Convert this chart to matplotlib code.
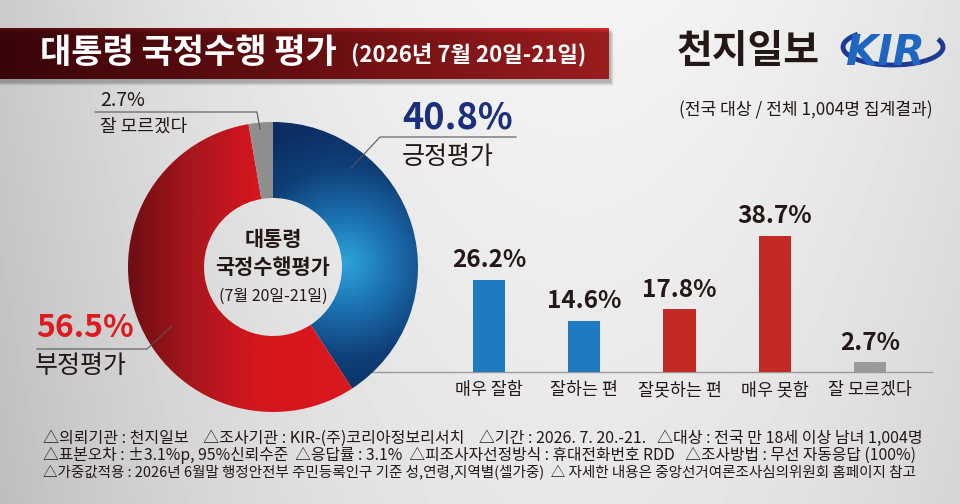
import numpy as np
import matplotlib
matplotlib.use("Agg")
import matplotlib.pyplot as plt
from matplotlib.patches import Rectangle, Arc
from matplotlib.colors import LinearSegmentedColormap

plt.rcParams['font.family'] = ['Noto Sans CJK KR', 'DejaVu Sans']

# donut data
pie_labels = ['긍정평가', '부정평가', '잘 모르겠다']
pie_values = [40.8, 56.5, 2.7]

# bar data
bar_labels = ['매우 잘함', '잘하는 편', '잘못하는 편', '매우 못함', '잘 모르겠다']
bar_values = [26.2, 14.6, 17.8, 38.7, 2.7]
bar_colors = ['#1f7bc1', '#1f7bc1', '#c22b25', '#c22b25', '#9a9a9a']

footer = [
    '△의뢰기관 : 천지일보    △조사기관 : KIR-(주)코리아정보리서치    △기간 : 2026. 7. 20.-21.   △대상 : 전국 만 18세 이상 남녀 1,004명',
    '△표본오차 : ±3.1%p, 95%신뢰수준  △응답률 : 3.1%  △피조사자선정방식 : 휴대전화번호 RDD   △조사방법 : 무선 자동응답 (100%)',
    '△가중값적용 : 2026년 6월말 행정안전부 주민등록인구 기준 성,연령,지역별(셀가중)  △ 자세한 내용은 중앙선거여론조사심의위원회 홈페이지 참고',
]
footer_right = [921, 915, 912]

W, H = 960, 504
fig = plt.figure(figsize=(W / 100, H / 100), dpi=100)

# background
bg = fig.add_axes([0, 0, 1, 1], zorder=-10)
bg.set_xlim(0, W)
bg.set_ylim(H, 0)
bg.axis('off')
xx, yy = np.meshgrid(np.linspace(0, 1, 240), np.linspace(0, 1, 126))
shade = 0.955 - 0.16 * ((xx - 0.6) / 0.6) ** 2 - 0.05 * yy
bg.imshow(shade, cmap='gray', vmin=0, vmax=1, extent=(0, W, H, 0), aspect='auto')

# title banner with shadow
for i, a in enumerate([0.10, 0.08, 0.06, 0.04]):
    bg.add_patch(Rectangle((0, 28 + i + 2), 609 + i + 2, 51 + 2, color='black', alpha=a, lw=0))
banner_cmap = LinearSegmentedColormap.from_list('b', ['#4e0a0f', '#8c1519', '#d0292a'])
bg.imshow(np.linspace(0, 1, 200)[None, :], cmap=banner_cmap, extent=(0, 609, 79, 28), aspect='auto')
bg.set_xlim(0, W)
bg.set_ylim(H, 0)

# baseline under bars
bg.plot([355, 932], [372, 372], color='#9a9a9a', lw=1)

# donut
pax = fig.add_axes([128 / W, (H - 267 - 145) / H, 290 / W, 290 / H])
wedges, _ = pax.pie(pie_values, startangle=90, counterclock=False, radius=1,
                    wedgeprops=dict(width=1 - 69 / 145, linewidth=0))
gx, gy = np.meshgrid(np.linspace(-1, 1, 300), np.linspace(1, -1, 300))
# blue: radial gradient
r = np.sqrt((gx - 0.5) ** 2 + (gy - 0.03) ** 2)
blue_cmap = LinearSegmentedColormap.from_list('bl', ['#2ea4da', '#1b6fae', '#0f3f78', '#0b2d62'])
im = pax.imshow(np.clip(r / 1.0, 0, 1), cmap=blue_cmap, vmin=0, vmax=1, extent=(-1, 1, -1, 1))
im.set_clip_path(wedges[0])
# red: horizontal gradient
red_cmap = LinearSegmentedColormap.from_list('rd', ['#6e0e14', '#a8161d', '#d4161d', '#d8181e'])
im = pax.imshow(np.clip((gx + 1) / 1.3, 0, 1), cmap=red_cmap, vmin=0, vmax=1, extent=(-1, 1, -1, 1))
im.set_clip_path(wedges[1])
wedges[0].set_facecolor('none')
wedges[1].set_facecolor('none')
wedges[2].set_facecolor('#8e8e8e')
pax.set_xlim(-1, 1)
pax.set_ylim(-1, 1)
pax.set_aspect('equal')
pax.axis('off')

# bars
bax = fig.add_axes([441.5 / W, (H - 372) / H, 476 / W, 176 / H])
bax.patch.set_alpha(0)
xs = np.arange(len(bar_values))
bax.bar(xs, bar_values, width=0.34, color=bar_colors)
bax.set_xlim(-0.5, 4.5)
bax.set_ylim(0, 50)
bax.axis('off')
for x, v in zip(xs, bar_values):
    bax.text(x, v + 2.2, f'{v}%', ha='center', va='bottom', fontsize=17.5,
             fontweight='bold', color='#231815')
for x, lab in zip(xs, bar_labels):
    bax.text(x, -5.2, lab, ha='center', va='center', fontsize=12.5, color='#231815')

# overlay for texts and leader lines
ov = fig.add_axes([0, 0, 1, 1], zorder=10)
ov.patch.set_alpha(0)
ov.set_xlim(0, W)
ov.set_ylim(H, 0)
ov.axis('off')

ov.text(40, 53, '대통령 국정수행 평가', color='white', fontsize=24.5, fontweight='bold',
        va='center', ha='left')
ov.text(351, 55, '(2026년 7월 20일-21일)', color='white', fontsize=16, fontweight='bold',
        va='center', ha='left')

ov.text(677, 52, '천지일보', color='#231815', fontsize=28, fontweight='bold', va='center', ha='left')
ov.add_patch(Arc((893, 47), 100, 36, theta1=-10, theta2=200, color='#1d3a94', lw=3.5))
ov.text(845, 53, 'KIR', color='#1f66c2', fontsize=30, fontweight='bold', style='italic',
        family='DejaVu Sans', va='center', ha='left')
ov.text(933, 110, '(전국 대상 / 전체 1,004명 집계결과)', color='#231815', fontsize=12.3,
        va='center', ha='right')

lc = '#555555'
ov.plot([95, 257, 260], [112, 112, 129], color=lc, lw=0.8)
ov.plot([516, 380, 351], [137, 137, 168], color=lc, lw=0.8)
ov.plot([37, 147, 172], [349, 349, 326], color=lc, lw=0.8)

ov.text(100, 100, f'{pie_values[2]}%', fontsize=14, color='#231815', va='center', ha='left')
ov.text(100, 127, pie_labels[2], fontsize=13, color='#231815', va='center', ha='left')
ov.text(402, 118, f'{pie_values[0]}%', fontsize=26, fontweight='bold', color='#1b2f7c',
        va='center', ha='left')
ov.text(402, 157, pie_labels[0], fontsize=18, color='#231815', va='center', ha='left')
ov.text(36, 328, f'{pie_values[1]}%', fontsize=23, fontweight='bold', color='#dc1c22',
        va='center', ha='left')
ov.text(35, 366, pie_labels[1], fontsize=18, color='#231815', va='center', ha='left')

ov.text(273, 239, '대통령', fontsize=15, fontweight='bold', color='#231815', ha='center', va='center')
ov.text(273, 268, '국정수행평가', fontsize=15, fontweight='bold', color='#231815', ha='center', va='center')
ov.text(273, 296, '(7월 20일-21일)', fontsize=11.5, color='#231815', ha='center', va='center')

# footer lines, shrunk to the width they take in the original
renderer = fig.canvas.get_renderer()
for i, line in enumerate(footer):
    t = ov.text(43, 438 + 17 * i, line, fontsize=11, color='#231815', va='center', ha='left')
    w = t.get_window_extent(renderer).width
    t.set_fontsize(11 * (footer_right[i] - 43) / w)

fig.savefig('out.png', dpi=100)
